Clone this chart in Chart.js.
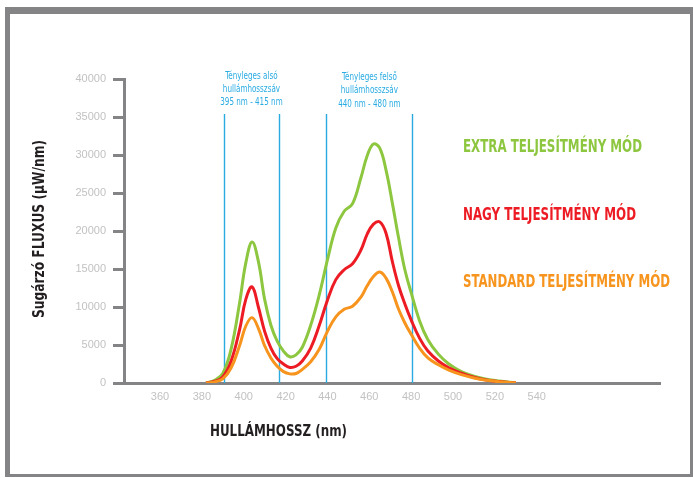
<!DOCTYPE html>
<html>
<head>
<meta charset="utf-8">
<script src="https://cdn.jsdelivr.net/npm/chart.js@4"></script>
<style>
  html, body { margin: 0; padding: 0; background: #fff; }
  #wrap { width: 693px; height: 478px; position: relative; }
</style>
</head>
<body>
<div id="wrap"><canvas id="spectrum-chart"></canvas></div>
<script>
// wavelength grid (nm) and the three read-off spectra (µW/nm)
const wavelengths = [382, 386, 390, 394, 398, 401, 404, 407, 410, 413, 416, 419, 422, 425, 428, 432, 436, 440, 444, 448, 452, 456, 459, 462, 465, 468, 471, 474, 477, 480, 484, 488, 493, 498, 504, 510, 516, 522, 530];
const extraMode = [0, 350, 1250, 4500, 10500, 15800, 18550, 16000, 11000, 7600, 5500, 4200, 3450, 3700, 4700, 7600, 11500, 16200, 20400, 22600, 23600, 27000, 29900, 31450, 30900, 28000, 23700, 19100, 14900, 11900, 8200, 5700, 3800, 2500, 1500, 900, 500, 250, 0];
const nagyMode = [0, 200, 800, 2900, 7000, 11000, 12650, 10000, 6800, 4600, 3200, 2500, 2050, 2200, 2900, 4600, 7500, 10900, 13600, 14900, 15700, 17500, 19600, 20900, 21200, 19700, 16000, 12800, 10400, 8300, 5900, 4200, 2900, 2000, 1300, 750, 400, 200, 0];
const standardMode = [0, 150, 550, 2000, 4900, 7500, 8600, 7200, 4900, 3300, 2200, 1500, 1200, 1250, 1800, 2800, 4400, 6800, 8700, 9700, 10100, 11300, 12800, 14000, 14600, 13800, 12000, 9700, 7900, 6400, 4600, 3300, 2400, 1700, 1100, 650, 350, 170, 0];

const seriesNames = ['EXTRA TELJESÍTMÉNY MÓD', 'NAGY TELJESÍTMÉNY MÓD', 'STANDARD TELJESÍTMÉNY MÓD'];
const seriesColors = ['#8dc63f', '#ed1c24', '#f7941d'];

const xTickLabels = [360, 380, 400, 420, 440, 460, 480, 500, 520, 540];
const bandEdges = [390.7, 416.7, 439.5, 480.6];
const bandLabels = [
    ['Tényleges alsó', 'hullámhosszsáv', '395 nm - 415 nm'],
    ['Tényleges felső', 'hullámhosszsáv', '440 nm - 480 nm']
];

const narrow = '"Liberation Sans Narrow", "DejaVu Sans Condensed", "Liberation Sans", sans-serif';
const cyan = '#29abe2';
const axisGray = '#848487';

function toPoints(values) {
    return wavelengths.map((w, i) => ({ x: w, y: values[i] }));
}

// frame round the whole picture
const framePlugin = {
    id: 'frame',
    beforeDraw(chart) {
        const c = chart.ctx;
        c.save();
        c.fillStyle = '#fff';
        c.fillRect(0, 0, chart.width, chart.height);
        c.fillStyle = axisGray;
        c.fillRect(5, 7, 688, 7);
        c.fillRect(5, 7, 5, 470);
        c.fillRect(690, 7, 3, 470);
        c.fillRect(5, 474, 688, 3);
        c.restore();
    }
};

// cyan band lines with their captions
const bandPlugin = {
    id: 'bands',
    beforeDatasetsDraw(chart) {
        const c = chart.ctx;
        const x = chart.scales.x;
        const yBottom = chart.scales.y.getPixelForValue(0);
        c.save();
        c.strokeStyle = cyan;
        c.lineWidth = 1.4;
        bandEdges.forEach(v => {
            const px = Math.round(x.getPixelForValue(v)) + 0.5;
            c.beginPath();
            c.moveTo(px, 114);
            c.lineTo(px, yBottom);
            c.stroke();
        });
        c.fillStyle = cyan;
        c.font = '10px ' + narrow;
        c.textAlign = 'center';
        c.textBaseline = 'middle';
        bandLabels.forEach((lines, i) => {
            const cx = (x.getPixelForValue(bandEdges[i * 2]) + x.getPixelForValue(bandEdges[i * 2 + 1])) / 2;
            const top = i === 0 ? 76 : 77.5;
            lines.forEach((t, j) => {
                // squeeze to the condensed face of the original
                const w = c.measureText(t).width * 0.8;
                c.fillText(t, cx, top + j * 13.3, w);
            });
        });
        c.restore();
    }
};

// axis titles and the series names on the right
const textPlugin = {
    id: 'texts',
    afterDraw(chart) {
        const c = chart.ctx;
        c.save();
        c.textBaseline = 'middle';
        c.textAlign = 'left';
        c.font = 'bold 17px ' + narrow;
        const rows = [148, 216, 283];
        const widths = [179, 173, 207];
        seriesNames.forEach((name, i) => {
            c.fillStyle = seriesColors[i];
            c.fillText(name, 463, rows[i], widths[i]);
        });

        c.fillStyle = '#231f20';
        c.font = 'bold 16px ' + narrow;
        c.fillText('HULLÁMHOSSZ (nm)', 210, 432, 137);

        c.translate(40, 229);
        c.rotate(-Math.PI / 2);
        c.textAlign = 'center';
        c.fillText('Sugárzó FLUXUS (µW/nm)', 0, 0, 178);
        c.restore();
    }
};

const datasets = [extraMode, nagyMode, standardMode].map((values, i) => ({
    label: seriesNames[i],
    data: toPoints(values),
    borderColor: seriesColors[i],
    borderWidth: 3,
    pointRadius: 0,
    fill: false,
    tension: 0.4,
    order: 2 - i
}));

new Chart(document.getElementById('spectrum-chart'), {
    type: 'line',
    data: { datasets: datasets },
    plugins: [framePlugin, bandPlugin, textPlugin],
    options: {
        responsive: true,
        maintainAspectRatio: false,
        animation: false,
        layout: { padding: { top: 79, right: 33, left: 0, bottom: 0 } },
        plugins: {
            legend: { display: false },
            tooltip: { enabled: false }
        },
        scales: {
            x: {
                type: 'linear',
                min: 342.8,
                max: 598.9,
                afterBuildTicks(scale) {
                    scale.ticks = xTickLabels.map(v => ({ value: v }));
                },
                afterFit(scale) { scale.height = 95; },
                grid: { display: false, drawTicks: false },
                border: { display: true, color: axisGray, width: 3 },
                ticks: {
                    color: '#c2c2c2',
                    font: { family: 'Liberation Sans', size: 11 },
                    padding: 7,
                    maxRotation: 0,
                    callback: v => String(v)
                }
            },
            y: {
                min: 0,
                max: 40000,
                afterFit(scale) { scale.width = 124; },
                grid: {
                    drawOnChartArea: false,
                    drawTicks: true,
                    tickLength: 11,
                    color: axisGray,
                    lineWidth: 3
                },
                border: { display: true, color: axisGray, width: 3 },
                ticks: {
                    stepSize: 5000,
                    color: '#c2c2c2',
                    font: { family: 'Liberation Sans', size: 11 },
                    padding: 7,
                    callback: v => String(v)
                }
            }
        }
    }
});
</script>
</body>
</html>
